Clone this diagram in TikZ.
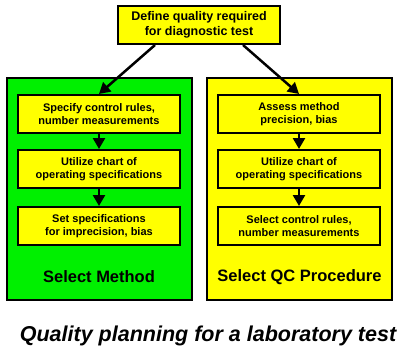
\documentclass[tikz,border=0pt]{standalone}
\usepackage{fontspec}
\setmainfont{Liberation Sans}
\usetikzlibrary{arrows.meta}
\definecolor{bgreen}{RGB}{0,240,0}
\definecolor{byellow}{RGB}{255,255,0}
\tikzset{
  inbox/.style={draw=black, line width=2pt, fill=byellow, minimum width=162pt, minimum height=38pt, inner sep=0pt, align=center, font=\bfseries\fontsize{11}{13.5}\selectfont},
  outbox/.style={draw=black, line width=2.5pt, minimum width=185pt, minimum height=222pt, inner sep=0pt},
  arr/.style={line width=2.5pt, -{Triangle[width=12pt,length=11pt]}},
  lbl/.style={font=\bfseries\fontsize{16.5}{18}\selectfont}
}
\begin{document}
\begin{tikzpicture}[x=1pt,y=-1pt]
\useasboundingbox (0,0) rectangle (409,350);
\node[outbox, fill=bgreen] (G) at (99.5,189) {};
\node[outbox, fill=byellow] (Y) at (299.5,189) {};
\node[inbox, font=\bfseries\fontsize{12.5}{14.5}\selectfont] (T) at (199,25) {Define quality required\\for diagnostic test};
\node[inbox] (L1) at (99,114) {Specify control rules,\\number measurements};
\node[inbox] (L2) at (99,169) {Utilize chart of\\operating specifications};
\node[inbox] (L3) at (99,226) {Set specifications\\for imprecision, bias};
\node[inbox] (R1) at (299,114) {Assess method\\precision, bias};
\node[inbox] (R2) at (299,169) {Utilize chart of\\operating specifications};
\node[inbox] (R3) at (299,226) {Select control rules,\\number measurements};
\node[lbl] (LM) at (99,277) {Select Method};
\node[lbl] (RQ) at (299.5,277) {Select QC Procedure};
\node[font=\bfseries\itshape\fontsize{21.5}{24}\selectfont] (C) at (208,336) {Quality planning for a laboratory test};
\draw[arr] ([xshift=-44pt]T.south) -- (L1.north);
\draw[arr] ([xshift=44pt]T.south) -- (R1.north);
\draw[arr] (L1.south) -- (L2.north);
\draw[arr] (L2.south) -- (L3.north);
\draw[arr] (R1.south) -- (R2.north);
\draw[arr] (R2.south) -- (R3.north);
\end{tikzpicture}
\end{document}
